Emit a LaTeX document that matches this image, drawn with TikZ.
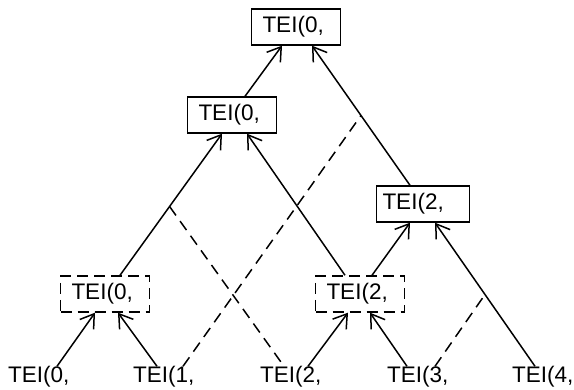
\documentclass[tikz,border=0pt]{standalone}
\usepackage{fontspec}
\setmainfont{Liberation Sans}
\usetikzlibrary{arrows.meta}
\begin{document}
\begin{tikzpicture}[x=1pt,y=-1pt,
  every node/.style={font=\fontsize{22.5}{24}\selectfont, text height=16.5pt, text depth=4.5pt},
  tei/.style={draw, line width=1.4pt, align=left, text width=67pt, inner xsep=11pt, inner ysep=0pt, minimum height=36pt},
  teidash/.style={tei, dash pattern=on 11pt off 6pt},
  leaf/.style={inner sep=0pt, anchor=base west},
  link/.style={line width=1.5pt, -{Straight Barb[length=13pt,width=17pt,line width=1.5pt]}},
  cross/.style={line width=1.5pt, dash pattern=on 11pt off 7pt}]
\useasboundingbox (0,0) rectangle (574,390);

% merged entries
\node[tei] (T) at (296,27) {TEI(0,};
\node[tei] (A) at (232,115) {TEI(0,};
\node[tei, text width=81pt, inner xsep=6pt] (B) at (423,204) {TEI(2,};
\node[teidash] (C) at (105,294) {TEI(0,};
\node[teidash] (D) at (360,294) {TEI(2,};

% input entries
\node[leaf] (l0) at (8,383) {TEI(0,};
\node[leaf] (l1) at (133,383) {TEI(1,};
\node[leaf] (l2) at (260,383) {TEI(2,};
\node[leaf] (l3) at (387,383) {TEI(3,};
\node[leaf] (l4) at (512,383) {TEI(4,};

% first level
\draw[link] ([xshift=49pt]l0.north west) -- ([xshift=-10pt]C.south);
\draw[link] ([xshift=24pt]l1.north west) -- ([xshift=13pt]C.south);
\draw[link] ([xshift=48pt]l2.north west) -- ([xshift=-12pt]D.south);
\draw[link] ([xshift=20pt]l3.north west) -- ([xshift=10pt]D.south);

% second level
\draw[link] ([xshift=15pt]C.north) -- coordinate[pos=0.486] (j1) ([xshift=-10pt]A.south);
\draw[link] ([xshift=-15pt]D.north) -- ([xshift=15pt]A.south);
\draw[link] ([xshift=12pt]D.north) -- ([xshift=-13pt]B.south);
\draw[link] ([xshift=23pt]l4.north west) -- coordinate[pos=0.5] (j3) ([xshift=12pt]B.south);

% top level
\draw[link] ([xshift=13pt]A.north) -- ([xshift=-14pt]T.south);
\draw[link] ([xshift=-13pt]B.north) -- coordinate[pos=0.5] (j2) ([xshift=16pt]T.south);

% crossing dashed links
\draw[cross] (j1) -- ([xshift=24pt]l2.north west);
\draw[cross] ([xshift=50pt]l1.north west) -- (j2);
\draw[cross] ([xshift=48pt]l3.north west) -- (j3);
\end{tikzpicture}
\end{document}
